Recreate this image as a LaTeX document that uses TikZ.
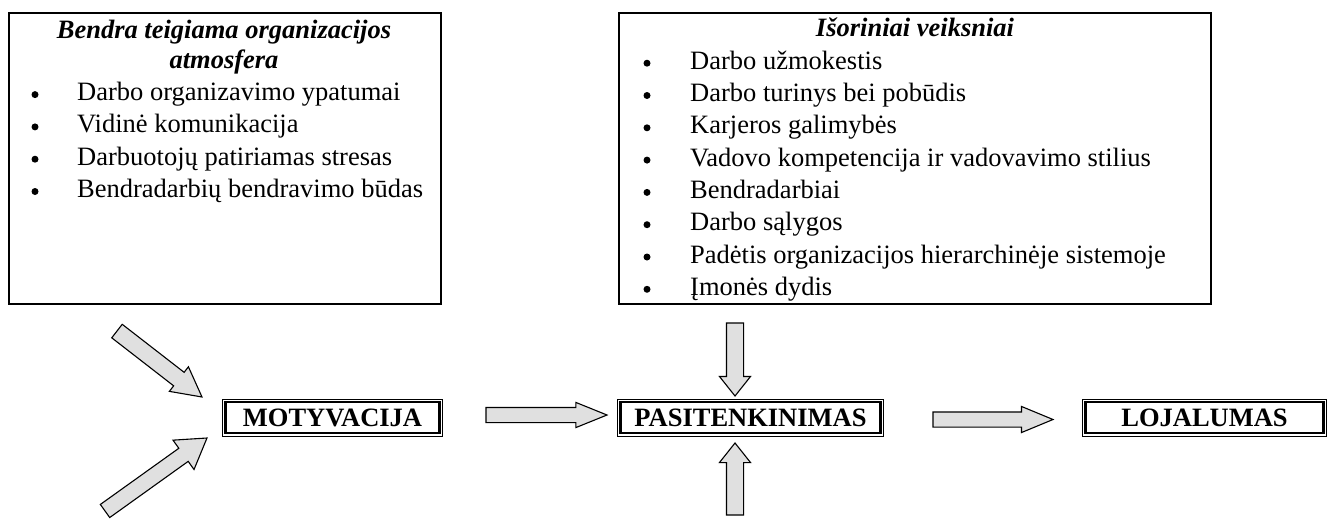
\documentclass[tikz,border=0pt]{standalone}
\usepackage{fontspec}
\setmainfont{Liberation Serif}
\usetikzlibrary{shapes.arrows}
\definecolor{arrowfill}{RGB}{224,224,224}

\begin{document}
\begin{tikzpicture}[x=1pt, y=-1pt,
  txt/.style={font=\fontsize{26.5}{32}\selectfont, inner sep=0pt, anchor=base west},
  ttl/.style={font=\fontsize{26.5}{32}\selectfont\bfseries\itshape, inner sep=0pt, anchor=base},
  keybox/.style={draw, line width=2.2pt, inner sep=0pt, outer sep=0pt, minimum height=31pt,
    font=\fontsize{26.5}{32}\selectfont\bfseries},
  blockarr/.style={single arrow, draw=black, fill=arrowfill, line width=1.1pt, inner xsep=0pt,
    outer sep=0pt, single arrow head indent=0pt, anchor=tip}]
  \useasboundingbox (0,0) rectangle (1335,525);
  \def\lh{32.3}
  % factor boxes
  \draw[line width=2pt] (9,13) rectangle (441,304);
  \draw[line width=2pt] (619,13) rectangle (1211,304);
  \node[ttl] (atmt1) at (224,38.3) {Bendra teigiama organizacijos};
  \node[ttl] (atmt2) at (224,68.3) {atmosfera};
  \foreach \t [count=\i] in {Darbo organizavimo ypatumai, Vidinė komunikacija,
      Darbuotojų patiriamas stresas, Bendradarbių bendravimo būdas} {
    \node[txt] (atm\i) at (77,{68.3+\lh*\i}) {\t};
    \fill (35,{62.3+\lh*\i}) circle (3.5);
  }
  \node[ttl] (ext) at (915,36.7) {Išoriniai veiksniai};
  \foreach \t [count=\i] in {Darbo užmokestis, Darbo turinys bei pobūdis, Karjeros galimybės,
      Vadovo kompetencija ir vadovavimo stilius, Bendradarbiai, Darbo sąlygos,
      Padėtis organizacijos hierarchinėje sistemoje, Įmonės dydis} {
    \node[txt] (ext\i) at (690,{36.9+\lh*\i}) {\t};
    \fill (647,{30.9+\lh*\i}) circle (3.5);
  }
  % chain
  \node[keybox, minimum width=214pt] (mot) at (332.5,417.5) {MOTYVACIJA};
  \node[keybox, minimum width=260pt] (pas) at (750.5,417.5) {PASITENKINIMAS};
  \node[keybox, minimum width=238pt] (loj) at (1204.5,417.5) {LOJALUMAS};
  \foreach \n in {mot,pas,loj}
    \draw[line width=0.8pt] ([shift={(-3pt,3pt)}]\n.north west) rectangle ([shift={(3pt,-3pt)}]\n.south east);
  % block arrows, placed by their tips
  \node[blockarr, inner ysep=7pt, single arrow head extend=5pt, single arrow tip angle=44,
    minimum height=121pt] (motpas) at (607,415) {};
  \node[blockarr, inner ysep=7pt, single arrow head extend=5.5pt, single arrow tip angle=45,
    minimum height=120pt] (pasloj) at (1053,419.5) {};
  \node[blockarr, inner ysep=8pt, single arrow head extend=7pt, single arrow tip angle=77,
    minimum height=73pt, rotate=-90] (extpas) at (735,396) {};
  \node[blockarr, inner ysep=8pt, single arrow head extend=7pt, single arrow tip angle=77,
    minimum height=72pt, rotate=90] (botpas) at (735,443) {};
  \node[blockarr, inner ysep=8pt, single arrow head extend=7pt, single arrow tip angle=56,
    minimum height=107.6pt, rotate=-37.8] (atmmot) at (202,397) {};
  \node[blockarr, inner ysep=7.5pt, single arrow head extend=10pt, single arrow tip angle=64,
    minimum height=125.4pt, rotate=35.6] (lowmot) at (207,438) {};
\end{tikzpicture}
\end{document}
